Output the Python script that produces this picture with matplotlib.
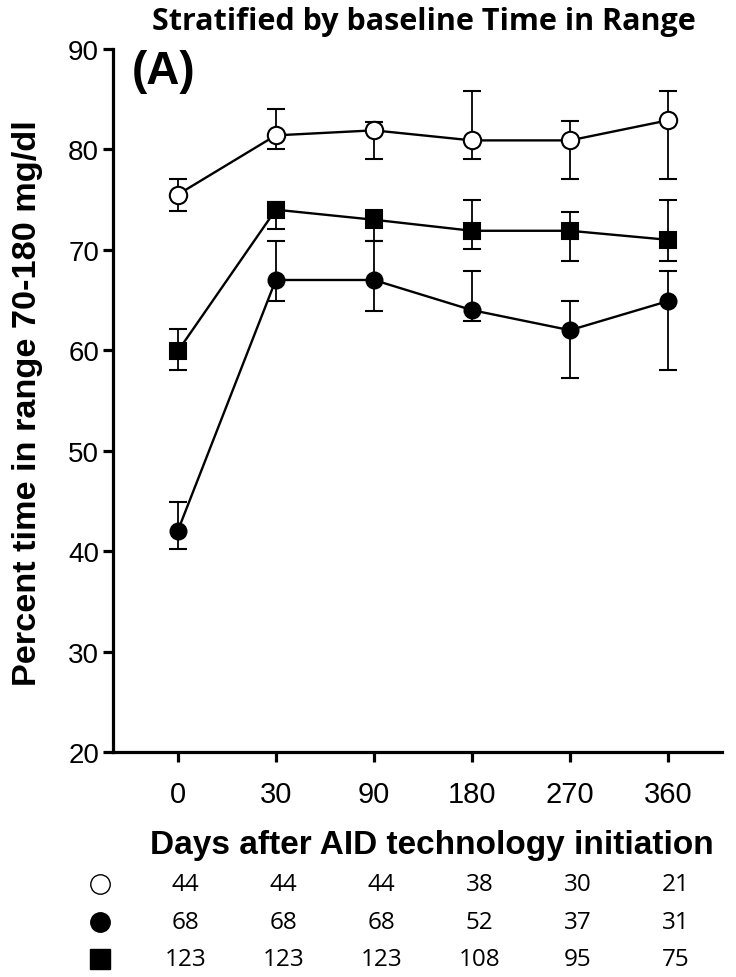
import matplotlib
matplotlib.use("Agg")
import matplotlib.pyplot as plt
from matplotlib.transforms import blended_transform_factory
import numpy as np

days = ["0", "30", "90", "180", "270", "360"]

# High baseline TIR (open circles)
high_mean = [75.5, 81.4, 81.9, 80.9, 80.9, 82.9]
high_lo = [73.9, 80.0, 79.0, 79.0, 77.1, 77.1]
high_hi = [77.1, 84.0, 82.7, 85.8, 82.8, 85.8]

# Low baseline TIR (filled circles)
low_mean = [42.0, 67.0, 67.0, 64.0, 62.0, 64.9]
low_lo = [40.2, 64.9, 63.9, 62.9, 57.2, 58.0]
low_hi = [44.9, 70.9, 70.9, 67.9, 64.9, 67.9]

# Middle baseline TIR (filled squares)
mid_mean = [59.9, 74.0, 73.0, 71.9, 71.9, 71.0]
mid_lo = [58.0, 72.1, 70.9, 70.1, 68.9, 68.9]
mid_hi = [62.1, 74.8, 74.0, 75.0, 73.8, 75.0]

n_high = [44, 44, 44, 38, 30, 21]
n_low = [68, 68, 68, 52, 37, 31]
n_mid = [123, 123, 123, 108, 95, 75]

plt.rcParams['font.family'] = ['Liberation Sans', 'DejaVu Sans']

W, H = 736, 978
fig = plt.figure(figsize=(W / 100, H / 100), dpi=100)
ax = fig.add_axes([113 / W, 1 - 753 / H, (722 - 113) / W, (753 - 50) / H])

x = np.arange(len(days))

def eb(mean, lo, hi, marker, mfc, ms):
    mean = np.array(mean); lo = np.array(lo); hi = np.array(hi)
    ax.errorbar(x, mean, yerr=[mean - lo, hi - mean], fmt='none', ecolor='black',
                elinewidth=1.3, capsize=6.5, capthick=1.5, zorder=2)
    ax.plot(x, mean, color='black', lw=1.7, marker=marker, markersize=ms,
            markerfacecolor=mfc, markeredgecolor='black', markeredgewidth=1.5, zorder=3)

eb(high_mean, high_lo, high_hi, 'o', 'white', 12.5)
eb(low_mean, low_lo, low_hi, 'o', 'black', 11.5)
eb(mid_mean, mid_lo, mid_hi, 's', 'black', 12)

ax.set_xlim(-0.66, 5.55)
ax.set_ylim(20, 90)
ax.set_yticks([20, 30, 40, 50, 60, 70, 80, 90])
ax.set_xticks(x)
ax.set_xticklabels(days)
ax.spines['top'].set_visible(False)
ax.spines['right'].set_visible(False)
for s in ['left', 'bottom']:
    ax.spines[s].set_linewidth(2.3)
ax.tick_params(axis='both', direction='out', length=7, width=2.3)
ax.tick_params(axis='y', labelsize=20, pad=3)
ax.tick_params(axis='x', labelsize=21, pad=13)

fig.text(28 / W, 1 - 403 / H, "Percent time in range 70-180 mg/dl", rotation=90,
         ha='center', va='center', fontsize=24.7, fontweight='bold')
fig.text(432 / W, 1 - 846 / H, "Days after AID technology initiation",
         ha='center', va='center', fontsize=24, fontweight='bold')

fig.text(424 / W, 1 - 22 / H, "Stratified by baseline Time in Range", ha='center', va='center',
         fontsize=22, fontweight='bold', family=['Open Sans', 'DejaVu Sans'])
fig.text(132 / W, 1 - 72 / H, "(A)", ha='left', va='center', fontsize=33, fontweight='bold')

trans = blended_transform_factory(ax.transData, fig.transFigure)
rows = [(n_high, 'o', 'white', 885), (n_low, 'o', 'black', 923), (n_mid, 's', 'black', 960)]
for vals, mk, fc, ypix in rows:
    yf = 1 - ypix / H
    for xi, v in zip(x, vals):
        ax.text(xi + 0.08, yf, str(v), transform=trans, ha='center', va='center',
                fontsize=17.5, family=['Open Sans', 'DejaVu Sans'])
    ax.plot([100 / W], [yf], marker=mk, markersize=14, markerfacecolor=fc,
            markeredgecolor='black', markeredgewidth=1, transform=fig.transFigure, clip_on=False)

fig.savefig("out.png", dpi=100)
